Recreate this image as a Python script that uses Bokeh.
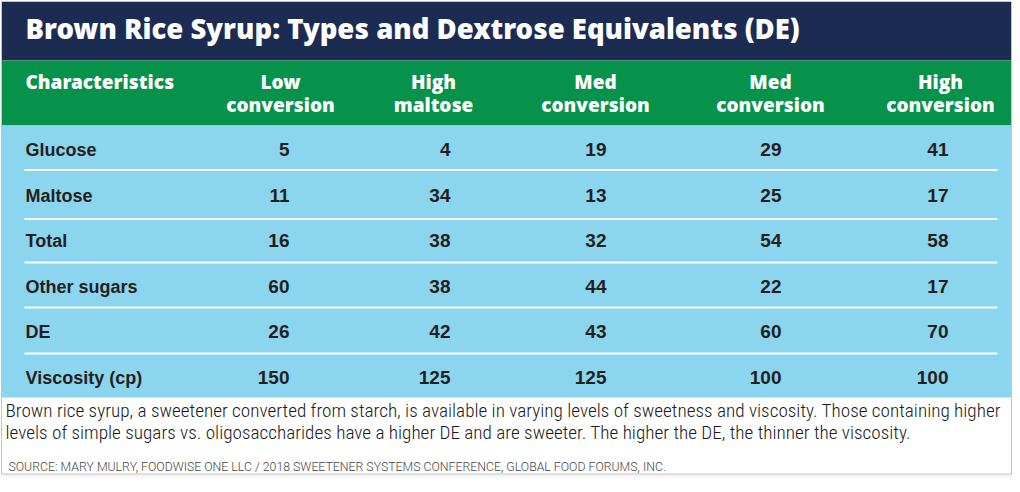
from bokeh.plotting import figure
from bokeh.models import Range1d, ColumnDataSource
from bokeh.core.properties import value
from bokeh.embed import file_html
from bokeh.resources import INLINE

# ---------------- data ----------------
title = "Brown Rice Syrup: Types and Dextrose Equivalents (DE)"
first_header = "Characteristics"
col_line1 = ["Low", "High", "Med", "Med", "High"]
col_line2 = ["conversion", "maltose", "conversion", "conversion", "conversion"]
row_labels = ["Glucose", "Maltose", "Total", "Other sugars", "DE", "Viscosity (cp)"]
low_conversion = [5, 11, 16, 60, 26, 150]
high_maltose = [4, 34, 38, 38, 42, 125]
med_conversion_a = [19, 13, 32, 44, 43, 125]
med_conversion_b = [29, 25, 54, 22, 60, 100]
high_conversion = [41, 17, 58, 17, 70, 100]
columns = [low_conversion, high_maltose, med_conversion_a, med_conversion_b, high_conversion]
note_lines = [
    "Brown rice syrup, a sweetener converted from starch, is available in varying levels of sweetness and viscosity. Those containing higher",
    "levels of simple sugars vs. oligosaccharides have a higher DE and are sweeter. The higher the DE, the thinner the viscosity.",
]
source_text = "SOURCE: MARY MULRY, FOODWISE ONE LLC / 2018 SWEETENER SYSTEMS CONFERENCE, GLOBAL FOOD FORUMS, INC."

# ---------------- layout (picture pixels) ----------------
NAVY = "#1b2b52"
GREEN = "#06924a"
BLUE = "#8bd5ee"
DARK = "#231f20"
HEAVY_FONT = "Open Sans ExtraBold"
BOLD_FONT = "Liberation Sans"
NOTE_FONT = "Roboto Condensed Light"
SRC_FONT = "Roboto Light"

# baseline correction: text is drawn ~0.38em lower than the given y
def base(y, size):
    return y - 0.38 * size

col_center = [280, 433, 595, 770, 940]
col_right = [289, 450, 606, 781, 948]
row_base = [156, 202, 247, 293, 338, 384]
sep_y = [169.5, 218.5, 262, 307, 353]

p = figure(width=1012, height=484, x_range=Range1d(0, 1012), y_range=Range1d(484, 0),
           output_backend="svg", toolbar_location=None, min_border=0)
p.axis.visible = False
p.grid.visible = False
p.outline_line_color = None
p.background_fill_color = "white"
p.border_fill_color = "white"

# card shadow + border
p.quad(left=[3], right=[1012], top=[4], bottom=[477], fill_color="#000000", fill_alpha=0.04, line_color=None)
p.quad(left=[1], right=[1011], top=[1], bottom=[473.5], fill_color="white", line_color="#c4c4c4", line_width=1)
# bands
p.quad(left=[1.5], right=[1010.5], top=[1.5], bottom=[60], fill_color=NAVY, line_color=None)
p.quad(left=[1.5], right=[1010.5], top=[60], bottom=[125], fill_color=GREEN, line_color=None)
p.quad(left=[1.5], right=[1010.5], top=[125], bottom=[397], fill_color=BLUE, line_color=None)

# separators
p.segment(x0=[24] * len(sep_y), x1=[997] * len(sep_y), y0=sep_y, y1=sep_y, line_color="white", line_width=2)

# title
TS = 27.5
p.text(x=[25], y=[base(38, TS)], text=[title], text_font=value(HEAVY_FONT),
       text_font_size=f"{TS}px", text_color="white", text_baseline="alphabetic", text_align="left")

# header
HS = 19
p.text(x=[25], y=[base(89, HS)], text=[first_header], text_font=value(HEAVY_FONT),
       text_font_size=f"{HS}px", text_color="white", text_baseline="alphabetic", text_align="left")
hdr = ColumnDataSource(dict(x=col_center * 2, y=[base(89, HS)] * 5 + [base(112, HS)] * 5,
                            t=col_line1 + col_line2))
p.text(x="x", y="y", text="t", source=hdr, text_font=value(HEAVY_FONT),
       text_font_size=f"{HS}px", text_color="white", text_baseline="alphabetic", text_align="center")

# row labels
RS = 18
rl = ColumnDataSource(dict(x=[25] * len(row_labels), y=[base(b, RS) for b in row_base], t=row_labels))
p.text(x="x", y="y", text="t", source=rl, text_font=value(BOLD_FONT), text_font_style="bold",
       text_font_size=f"{RS}px", text_color=DARK, text_baseline="alphabetic", text_align="left")

# cells
NS = 19
xs, ys, ts = [], [], []
for ci, col in enumerate(columns):
    for ri, v in enumerate(col):
        xs.append(col_right[ci])
        ys.append(base(row_base[ri], NS))
        ts.append(str(v))
cells = ColumnDataSource(dict(x=xs, y=ys, t=ts))
p.text(x="x", y="y", text="t", source=cells, text_font=value(BOLD_FONT), text_font_style="bold",
       text_font_size=f"{NS}px", text_color=DARK, text_baseline="alphabetic", text_align="right")

# note
FS = 19.2
p.text(x=[5, 5], y=[base(417, FS), base(439, FS)], text=note_lines, text_font=value(NOTE_FONT),
       text_font_size=f"{FS}px", text_color="#1a1a1a", text_baseline="alphabetic", text_align="left")
SS = 12.3
p.text(x=[8], y=[base(471, SS)], text=[source_text], text_font=value(SRC_FONT),
       text_font_size=f"{SS}px", text_color="#444444", text_baseline="alphabetic", text_align="left")

open("out.html", "w").write(file_html(p, INLINE))
